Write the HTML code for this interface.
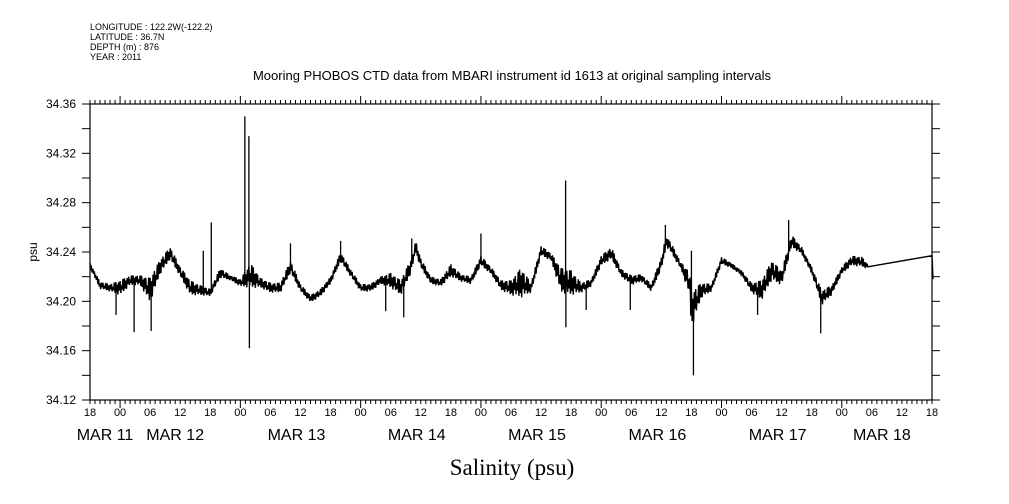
<!DOCTYPE html>
<html><head><meta charset="utf-8"><style>
html,body{margin:0;padding:0;background:#fff;}
svg{display:block;}
text{font-family:"Liberation Sans",sans-serif;fill:#000;}
</style></head><body>
<svg id="chart" width="1009" height="504" viewBox="0 0 1009 504" xmlns="http://www.w3.org/2000/svg">
<g font-size="9">
<text x="90" y="30">LONGITUDE : 122.2W(-122.2)</text>
<text x="90" y="40">LATITUDE : 36.7N</text>
<text x="90" y="50">DEPTH (m) : 876</text>
<text x="90" y="60">YEAR : 2011</text>
</g>
<text x="512" y="80" font-size="13" text-anchor="middle">Mooring PHOBOS CTD data from MBARI instrument id 1613 at original sampling intervals</text>
<text x="0" y="0" font-size="12" text-anchor="middle" transform="translate(37,252) rotate(-90)">psu</text>
<text x="512" y="475" font-size="23" text-anchor="middle" style="font-family:'Liberation Serif',serif">Salinity (psu)</text>
<g id="axes"></g>
<g id="series"></g>
</svg>
<script>
const hours = [0,2,4,6,8,10,12,14,16,18,20,22,24,26,28,30,32,34,36,38,40,42,44,46,48,50,52,54,56,58,60,62,64,65,66,68,70,72,74,76,78,80,82,84,86,88,90,92,94,96,98,100,102,104,106,108,110,112,114,115,116,118,119.6,120,122,124,126,128,130,132,134,136,138,140,142,144,146,148,150,152,154,155.2,168,168.2];
const salinity = [34.229,34.213,34.211,34.211,34.217,34.217,34.209,34.228,34.239,34.224,34.211,34.209,34.207,34.223,34.219,34.215,34.221,34.215,34.211,34.211,34.228,34.211,34.202,34.207,34.217,34.236,34.223,34.211,34.211,34.217,34.217,34.211,34.228,34.244,34.231,34.217,34.215,34.225,34.219,34.217,34.233,34.225,34.213,34.211,34.215,34.211,34.241,34.236,34.217,34.215,34.211,34.215,34.233,34.239,34.223,34.217,34.219,34.211,34.231,34.249,34.243,34.228,34.215,34.193,34.209,34.211,34.233,34.229,34.223,34.211,34.209,34.225,34.219,34.249,34.241,34.225,34.203,34.209,34.225,34.233,34.232,34.228,34.237,34.218];
const spread = [0.002,0.003,0.003,0.006,0.004,0.004,0.010,0.006,0.005,0.004,0.006,0.004,0.003,0.004,0.002,0.003,0.010,0.004,0.004,0.004,0.005,0.003,0.003,0.003,0.003,0.004,0.003,0.003,0.003,0.003,0.006,0.006,0.006,0.005,0.004,0.003,0.003,0.005,0.003,0.003,0.004,0.003,0.004,0.006,0.012,0.004,0.004,0.003,0.010,0.010,0.004,0.003,0.004,0.005,0.003,0.004,0.003,0.003,0.005,0.005,0.004,0.003,0.010,0.015,0.006,0.003,0.003,0.002,0.002,0.004,0.008,0.008,0.006,0.005,0.003,0.003,0.006,0.004,0.003,0.004,0.004,0.002,0,0.004];
const spikeHours = [5.2,8.8,12.2,22.6,24.2,30.9,31.7,31.8,40,50,59,62.6,64.2,78,94.9,94.95,99,107.8,114.8,120,120.4,133.2,139.4,145.8];
const spikeValues = [34.189,34.175,34.176,34.241,34.264,34.350,34.334,34.162,34.247,34.249,34.192,34.187,34.251,34.255,34.298,34.179,34.193,34.193,34.262,34.241,34.140,34.189,34.266,34.174];
const yTicks = [34.12,34.16,34.20,34.24,34.28,34.32,34.36];
const xTickLabels = ["18","00","06","12","18","00","06","12","18","00","06","12","18","00","06","12","18","00","06","12","18","00","06","12","18","00","06","12","18"];
const dateLabels = ["MAR 11","MAR 12","MAR 13","MAR 14","MAR 15","MAR 16","MAR 17","MAR 18"];
const dateHours = [3,17,41.2,65.2,89.2,113.2,137.2,158];

const X0=90,X1=932,Y0=104,Y1=400,H=168,VMIN=34.12,VMAX=34.36;
const xs=h=>X0+(X1-X0)*h/H;
const ys=v=>Y0+(Y1-Y0)*(VMAX-v)/(VMAX-VMIN);
const NS='http://www.w3.org/2000/svg';
function mk(tag,attrs,parent){const e=document.createElementNS(NS,tag);for(const k in attrs)e.setAttribute(k,attrs[k]);parent.appendChild(e);return e;}
const axes=document.getElementById('axes');
const series=document.getElementById('series');

const frame=mk('rect',{x:X0,y:Y0,width:X1-X0,height:Y1-Y0,fill:'none',stroke:'#000','stroke-width':1.2},axes);



for(let i=0;i<=12;i++){
  const v=VMIN+i*0.02,y=ys(v);
  const t1=mk('line',{x1:X0-8,x2:X0,y1:y,y2:y,stroke:'#000'},axes);
  
  
  const t2=mk('line',{x1:X1,x2:X1+8,y1:y,y2:y,stroke:'#000'},axes);
  
  
}
yTicks.forEach(v=>{
  const t=mk('text',{x:76,y:ys(v)+4,'font-size':12,'text-anchor':'end'},axes);
  t.textContent=v.toFixed(2);
  
  
});
for(let h=0;h<=H;h++){
  const x=xs(h);const major=((h+18)%24===0);
  const len=major?8:4;
  const a=mk('line',{x1:x,x2:x,y1:Y0-len,y2:Y0,stroke:'#000'},axes);
  
  
  const b=mk('line',{x1:x,x2:x,y1:Y1,y2:Y1+len,stroke:'#000'},axes);
  
  
}
xTickLabels.forEach((s,i)=>{
  const t=mk('text',{x:xs(i*6),y:416,'font-size':11,'text-anchor':'middle'},axes);
  t.textContent=s;
  
  
});
dateLabels.forEach((s,i)=>{
  const t=mk('text',{x:xs(dateHours[i]),y:440,'font-size':16,'text-anchor':'middle'},axes);
  t.textContent=s;
  
  
});

// main trace
const pattern=[1,-0.7,0.5,-1,0.8,-0.4,0.9,-0.8,0.2,-0.5,1,-0.9];
let pts=[];let k=0;
for(let i=0;i<hours.length-1;i++){
  const h0=hours[i],h1=hours[i+1];
  const gap=(h1-h0)>5;
  const steps=gap?1:Math.max(1,Math.round((xs(h1)-xs(h0))/0.7));
  for(let s=0;s<steps;s++){
    const f=s/steps;
    const h=h0+(h1-h0)*f;
    const v=salinity[i]+(salinity[i+1]-salinity[i])*f;
    const sp=gap?0:spread[i]+(spread[i+1]-spread[i])*f;
    pts.push(xs(h).toFixed(1)+','+ys(v+sp*pattern[k++%pattern.length]).toFixed(1));
  }
}
const last=hours.length-1;
pts.push(xs(hours[last]).toFixed(1)+','+ys(salinity[last]).toFixed(1));
const line=mk('polyline',{points:pts.join(' '),fill:'none',stroke:'#000','stroke-width':1.4},series);



function interp(h){
  for(let i=0;i<hours.length-1;i++){if(h>=hours[i]&&h<=hours[i+1]){const f=(h-hours[i])/(hours[i+1]-hours[i]);return salinity[i]+(salinity[i+1]-salinity[i])*f;}}
  return salinity[last];
}
spikeHours.forEach((h,i)=>{
  const x=xs(h);
  const sp=mk('line',{x1:x,x2:x,y1:ys(interp(h)),y2:ys(spikeValues[i]),stroke:'#000','stroke-width':1.3},series);
  
  
});
</script>
</body></html>
